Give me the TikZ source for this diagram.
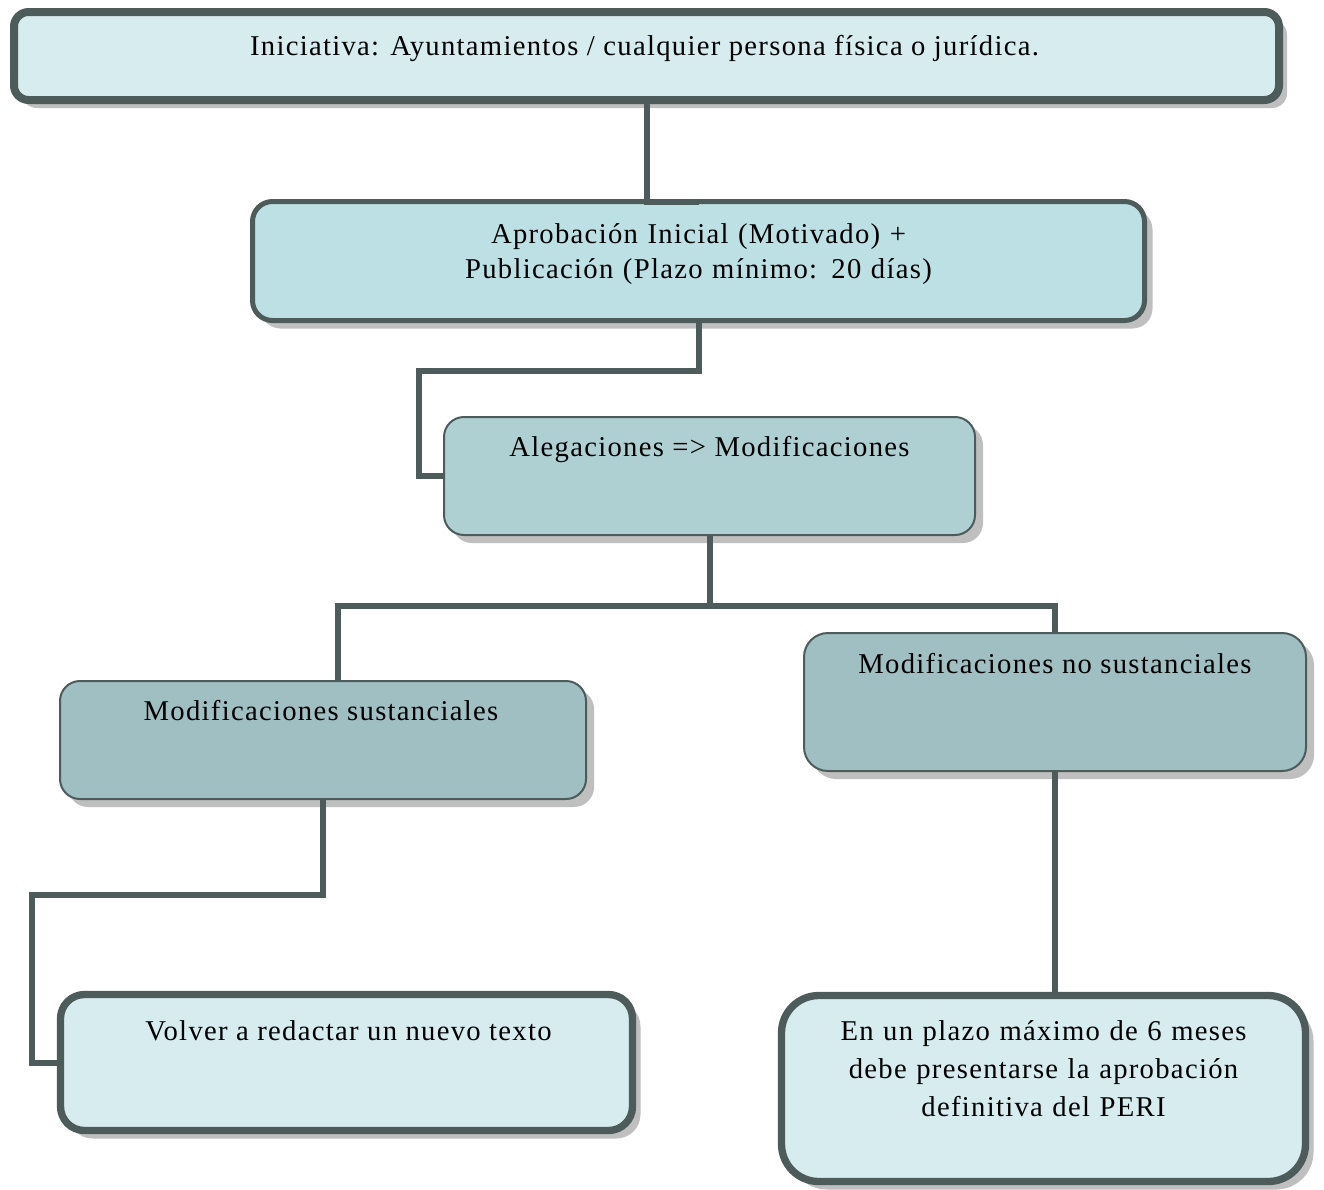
\documentclass[tikz,border=0pt]{standalone}
\usepackage{fontspec}
\setmainfont[LetterSpace=4.5]{Liberation Serif}
\usetikzlibrary{fit,calc,shadows}
\definecolor{Borde}{HTML}{4D5B5B}
\definecolor{Claro}{HTML}{D7ECEF}
\definecolor{Medio}{HTML}{BCE0E4}
\definecolor{Aleg}{HTML}{AFD0D3}
\definecolor{Oscuro}{HTML}{A0BFC2}
\definecolor{Sombra}{HTML}{BFBFBF}

\begin{document}
\begin{tikzpicture}[x=0.75pt,y=-0.75pt]
	\tikzstyle{Caja} = [draw=Borde,inner sep=0pt,outer sep=0pt,
	drop shadow={shadow xshift=6pt,shadow yshift=-6pt,fill=Sombra,opacity=1}]
	\tikzstyle{Gruesa} = [Caja,line width=5.5pt,fill=Claro]
	\tikzstyle{Fina} = [Caja,line width=1.5pt,fill=Oscuro,rounded corners=15pt]
	\tikzstyle{Texto} = [anchor=base,inner sep=0pt,align=center,
	font=\fontsize{21.5}{26.5}\selectfont]
	\tikzstyle{Union} = [draw=Borde,line width=4.5pt]
	\useasboundingbox (0,0) rectangle (1324,1189);
	% cajas
	\node[Gruesa,line width=6pt,rounded corners=11pt,fit={(14,12) (1279,100)}] (ini) {};
	\node[Caja,line width=3.75pt,fill=Medio,rounded corners=15pt,
	fit={(252.5,201.5) (1144.5,320.5)}] (apro) {};
	\node[Fina,fill=Aleg,fit={(444,417) (975,535)}] (aleg) {};
	\node[Fina,fit={(60,681) (586,799)}] (sust) {};
	\node[Fina,rounded corners=18pt,fit={(804,633) (1306,771)}] (nosust) {};
	\node[Gruesa,rounded corners=18pt,fit={(60.5,994.5) (632.5,1130.5)}] (volver) {};
	\node[Gruesa,rounded corners=28pt,fit={(781.5,995.5) (1305.5,1181.5)}] (plazo) {};
	% textos
	\node[Texto] (iniT) at ($(ini.north)+(-2,43)$)
	{Iniciativa: Ayuntamientos / cualquier persona física o jurídica.};
	\node[Texto,text width=620pt] (aproT) at ($(apro.north)+(0,42)$)
	{Aprobación Inicial (Motivado) +\\Publicación (Plazo mínimo: 20 días)};
	\node[Texto] (alegT) at ($(aleg.north)+(0,39)$) {Alegaciones => Modificaciones};
	\node[Texto] (sustT) at ($(sust.north)+(-2,39)$) {Modificaciones sustanciales};
	\node[Texto] (nosustT) at ($(nosust.north)+(0,40)$) {Modificaciones no sustanciales};
	\node[Texto] (volverT) at ($(volver.north)+(2,46)$) {Volver a redactar un nuevo texto};
	\node[Texto,text width=380pt,font=\fontsize{21.5}{28.5}\selectfont] (plazoT)
	at ($(plazo.north)+(0,45)$)
	{En un plazo máximo de 6 meses\\debe presentarse la aprobación\\definitiva del PERI};
	% uniones
	\draw[Union] (ini.south) |- (apro.north);
	\draw[Union] (apro.south) -- ++(0,50) -| ($(aleg.west)+(-25,0)$) -- (aleg.west);
	\draw[Union] (aleg.south) -- ++(0,71) -| ($(sust.north)+(15,0)$);
	\draw[Union] (aleg.south) -- ++(0,71) -| (nosust.north);
	\draw[Union] (sust.south) -- ++(0,96) -| ($(volver.west)+(-28.5,0)$) -- (volver.west);
	\draw[Union] (nosust.south) -- (nosust.south |- plazo.north);
\end{tikzpicture}
\end{document}
